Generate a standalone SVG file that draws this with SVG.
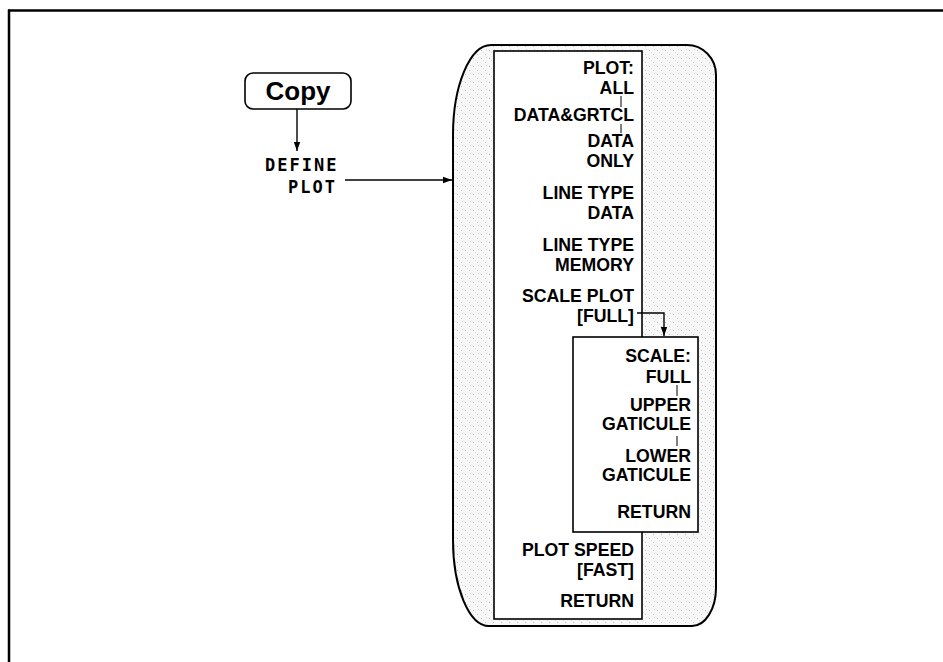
<svg xmlns="http://www.w3.org/2000/svg" width="943" height="662" viewBox="0 0 943 662">
  <style>
    .key { font-family: "Liberation Sans", Arial, sans-serif; font-weight: bold; font-size: 17.7px; fill: #000; text-anchor: end; }
    .mono { font-family: "DejaVu Sans Mono", "Liberation Mono", monospace; font-weight: bold; font-size: 17px; letter-spacing: 2px; fill: #000; }
    .copy { font-family: "Liberation Sans", Arial, sans-serif; font-weight: bold; font-size: 26px; fill: #000; text-anchor: middle; }
    .box { fill: #fff; stroke: #000; stroke-width: 1.6; }
    .wire { fill: none; stroke: #000; stroke-width: 1.4; }
    .tick { fill: none; stroke: #000; stroke-width: 1; }
  </style>
  <defs>
    <marker id="arrow" markerUnits="userSpaceOnUse" markerWidth="10" markerHeight="8" refX="9" refY="4" orient="auto">
      <path d="M0,0.8 L9,4 L0,7.2 Z" fill="#000"/>
    </marker>
    <pattern id="stipple" width="8" height="8" patternUnits="userSpaceOnUse">
      <rect width="8" height="8" fill="#f8f8f8"/>
      <rect x="1" y="2" width="1" height="1" fill="#b0b0b0"/>
      <rect x="5" y="6" width="1" height="1" fill="#c0c0c0"/>
      <rect x="6" y="1" width="1" height="1" fill="#d4d4d4"/>
      <rect x="3" y="4" width="1" height="1" fill="#dcdcdc"/>
    </pattern>
  </defs>

  <g id="frame">
    <line x1="8" y1="10.5" x2="943" y2="10.5" stroke="#000" stroke-width="2.5"/>
    <line x1="9" y1="9.5" x2="9" y2="662" stroke="#000" stroke-width="2.5"/>
  </g>

  <g id="menu-panel">
    <path d="M453,135 A38,90 0 0 1 491,45 L687,45 A29,30 0 0 1 716,75 L716,588 A24,38 0 0 1 692,626 L489,626 A36,86 0 0 1 453,540 Z" fill="url(#stipple)" stroke="#000" stroke-width="2"/>
  </g>

  <g id="node-copy">
    <rect x="245" y="73" width="106" height="36" rx="8" ry="8" fill="#fff" stroke="#000" stroke-width="1.6"/>
    <text class="copy" x="298" y="100">Copy</text>
  </g>

  <g id="node-define-plot">
    <text class="mono" x="265" y="171">DEFINE</text>
    <text class="mono" x="288" y="193">PLOT</text>
  </g>

  <g id="node-plot-menu">
    <rect class="box" x="494" y="51" width="148" height="568"/>
    <text class="key" x="634" y="74">PLOT:</text>
    <text class="key" x="634" y="94">ALL</text>
    <text class="key" x="634" y="121">DATA&amp;GRTCL</text>
    <text class="key" x="634" y="147">DATA</text>
    <text class="key" x="634" y="167">ONLY</text>
    <text class="key" x="634" y="199">LINE TYPE</text>
    <text class="key" x="634" y="219">DATA</text>
    <text class="key" x="634" y="251">LINE TYPE</text>
    <text class="key" x="634" y="271">MEMORY</text>
    <text class="key" x="634" y="302">SCALE PLOT</text>
    <text class="key" x="634" y="322">[FULL]</text>
    <text class="key" x="634" y="556">PLOT SPEED</text>
    <text class="key" x="634" y="576">[FAST]</text>
    <text class="key" x="634" y="607">RETURN</text>
  </g>

  <g id="node-scale-menu">
    <rect class="box" x="573" y="337" width="125" height="195"/>
    <text class="key" x="691" y="362">SCALE:</text>
    <text class="key" x="691" y="383">FULL</text>
    <text class="key" x="691" y="411">UPPER</text>
    <text class="key" x="691" y="430">GATICULE</text>
    <text class="key" x="691" y="462">LOWER</text>
    <text class="key" x="691" y="481">GATICULE</text>
    <text class="key" x="691" y="518">RETURN</text>
  </g>

  <g id="connectors">
    <line class="wire" x1="297" y1="109" x2="297" y2="151" marker-end="url(#arrow)"/>
    <line class="wire" x1="345" y1="180" x2="452" y2="180" marker-end="url(#arrow)"/>
    <polyline class="wire" points="637,313 664,313 664,336" marker-end="url(#arrow)"/>
    <line class="tick" x1="621" y1="96" x2="621" y2="107"/>
    <line class="tick" x1="621" y1="124" x2="621" y2="133"/>
    <line class="tick" x1="677" y1="385" x2="677" y2="396"/>
    <line class="tick" x1="677" y1="436" x2="677" y2="446"/>
  </g>
</svg>
